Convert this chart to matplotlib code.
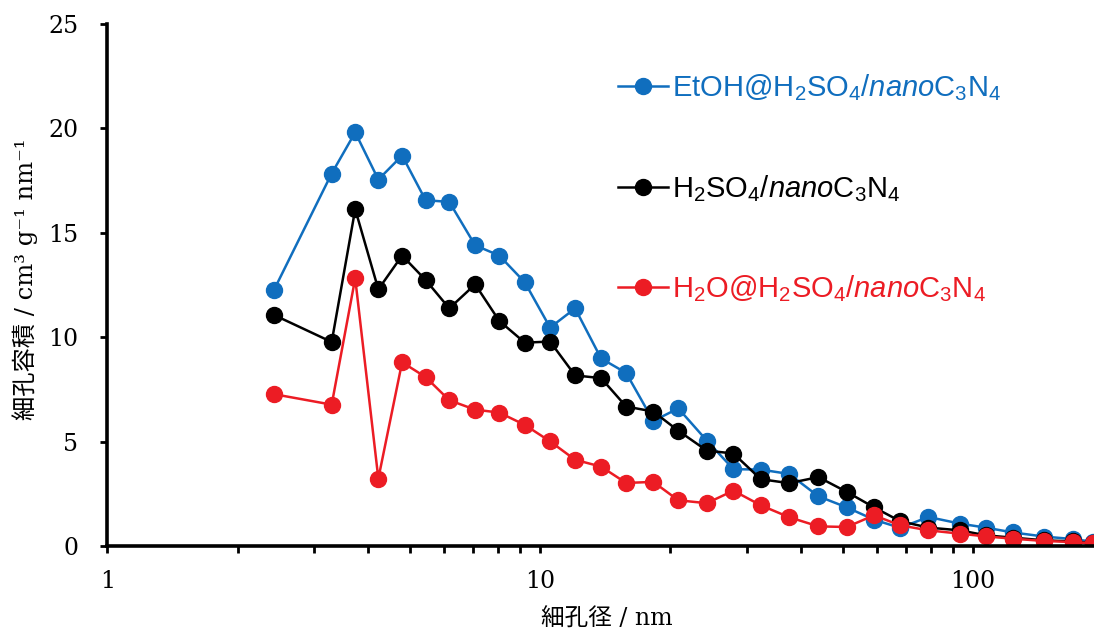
import matplotlib
matplotlib.use('Agg')
import matplotlib.pyplot as plt
from matplotlib.ticker import FixedLocator, FuncFormatter, NullFormatter, LogLocator

#Pore diameter (nm), shared by all three samples
pore_d = [2.43, 3.30, 3.74, 4.23, 4.80, 5.44, 6.17, 7.08, 8.05, 9.22,
          10.55, 12.05, 13.84, 15.81, 18.27, 20.87, 24.28, 27.98, 32.36, 37.63,
          43.98, 51.15, 59.14, 67.92, 78.97, 93.47, 107.2, 123.7, 146.4, 170.8, 190.0]

#Pore volume (cm3 g-1 nm-1)
etoh = [12.28, 17.84, 19.81, 17.55, 18.70, 16.56, 16.48, 14.40, 13.91, 12.63,
        10.46, 11.38, 8.98, 8.29, 5.99, 6.59, 5.05, 3.68, 3.66, 3.45,
        2.38, 1.85, 1.26, 0.87, 1.39, 1.07, 0.88, 0.65, 0.45, 0.33, 0.20]
h2so4 = [11.06, 9.77, 16.13, 12.29, 13.91, 12.74, 11.38, 12.53, 10.78, 9.74,
         9.79, 8.17, 8.04, 6.68, 6.44, 5.52, 4.57, 4.43, 3.20, 3.01,
         3.30, 2.59, 1.85, 1.19, 0.88, 0.75, 0.51, 0.40, 0.27, 0.22, 0.12]
h2o = [7.27, 6.77, 12.82, 3.23, 8.80, 8.09, 6.98, 6.53, 6.39, 5.80,
       5.01, 4.13, 3.80, 3.02, 3.07, 2.19, 2.05, 2.65, 1.95, 1.38,
       0.94, 0.91, 1.47, 0.99, 0.75, 0.59, 0.46, 0.35, 0.24, 0.19, 0.12]

labels = [r'EtOH@H$\mathregular{_2}$SO$\mathregular{_4}$/$\mathit{nano}$C$\mathregular{_3}$N$\mathregular{_4}$',
          r'H$\mathregular{_2}$SO$\mathregular{_4}$/$\mathit{nano}$C$\mathregular{_3}$N$\mathregular{_4}$',
          r'H$\mathregular{_2}$O@H$\mathregular{_2}$SO$\mathregular{_4}$/$\mathit{nano}$C$\mathregular{_3}$N$\mathregular{_4}$']
colors = ['#106EBE', 'black', '#EC1C24']
series = [etoh, h2so4, h2o]

plt.rcParams['font.family'] = ['DejaVu Serif', 'Noto Sans CJK JP']
plt.rcParams['mathtext.fontset'] = 'custom'
plt.rcParams['mathtext.rm'] = 'Liberation Sans'
plt.rcParams['mathtext.it'] = 'Liberation Sans:italic'

fig = plt.figure(figsize=(10.94, 6.32), dpi=100)
ax = fig.add_axes([107.3/1094, 86/632, 1 - 107.3/1094, 522/632])

for vals, c, lab in zip(series, colors, labels):
    ax.plot(pore_d, vals, color=c, lw=1.8, marker='o', ms=11.5, label=lab)

ax.set_xscale('log')
ax.set_xlim(1, 190.6)
ax.set_ylim(0, 25)
ax.yaxis.set_major_locator(FixedLocator([0, 5, 10, 15, 20, 25]))
ax.xaxis.set_major_locator(FixedLocator([1, 10, 100]))
ax.xaxis.set_minor_locator(LogLocator(base=10, subs=range(2, 10)))
ax.xaxis.set_major_formatter(FuncFormatter(lambda v, p: '%d' % v))
ax.xaxis.set_minor_formatter(NullFormatter())

#Axis style
for s in ['top', 'right']:
    ax.spines[s].set_visible(False)
for s in ['left', 'bottom']:
    ax.spines[s].set_linewidth(2.6)
ax.tick_params(axis='both', which='both', direction='out', length=5, width=2, labelsize=17)
ax.tick_params(axis='y', pad=16)
ax.tick_params(axis='x', pad=12)

fig.text(607/1094, 1 - 619/632, '細孔径 / nm', ha='center', va='center', fontsize=17)
fig.text(25/1094, 1 - 279/632, '細孔容積 / cm³ g⁻¹ nm⁻¹', ha='center', va='center',
         rotation=90, fontsize=17.5)

leg = ax.legend(loc='upper left', bbox_to_anchor=(618/1094, 1 - 72/632),
                bbox_transform=fig.transFigure, frameon=False, borderpad=0,
                borderaxespad=0, handlelength=1.71, handletextpad=0.15,
                labelspacing=2.4, labelcolor='linecolor',
                prop={'family': 'Liberation Sans', 'size': 21})

fig.savefig('out.png', dpi=100)
